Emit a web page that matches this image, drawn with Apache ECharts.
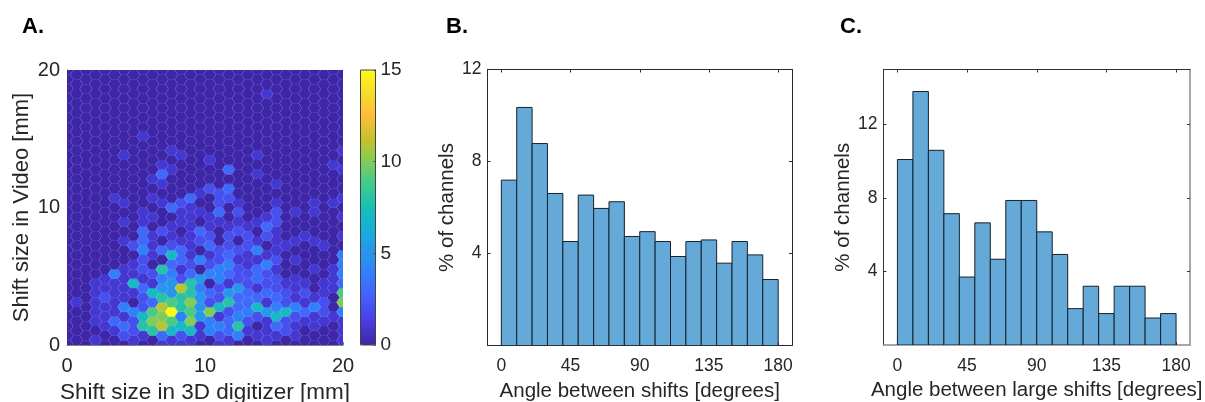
<!DOCTYPE html>
<html><head><meta charset="utf-8">
<style>html,body{margin:0;padding:0;background:#fff}#c{width:1205px;height:402px}</style>
<script src="https://cdn.jsdelivr.net/npm/echarts@6/dist/echarts.min.js"></script>
</head><body><div id="c"></div>
<script>
// Panel A: hexagonal bin counts, one list per bin column, from the bottom bin upward
const hexColumns = [
 [],
 [0,0,0,0,1],
 [],
 [1,0,1,1,1,1,1],
 [0,0,1,1,1,2,1,1],
 [0,1,3,1,1,1,1,4,0,0,0,0,0,0,0,1],
 [0,2,3,1,4,1,1,1,1,0,0,1,0,1,0,1,0,0,0,0,1],
 [1,2,2,4,0,1,7,1,1,0,2],
 [0,1,8,7,2,2,3,1,2,2,4,3,3,1,1,0,0,0,0,0,0,0,1],
 [0,8,10,9,3,7,1,2,0,1,1,1,0,1,0,1,0,1],
 [1,3,11,10,11,8,5,4,8,0,3,0,2,0,0,1,0,1,3,1],
 [1,7,9,15,9,5,5,4,3,7,2,1,1,0,3,0,0,0,1,0,1],
 [1,2,7,4,8,8,11,2,1,3,3,1,0,1,1,2,0,0,0,0,1],
 [1,7,10,9,10,8,8,3,2,1,1,1,1,1,1,3],
 [0,1,1,5,5,5,4,5,0,4,0,2,3,0,1,0,1],
 [0,4,4,10,2,3,0,4,2,1,3,2,1,1,0,0,2,0,0,1],
 [1,2,4,1,7,2,2,4,4,2,2,0,0,1,3,2,2],
 [1,3,3,2,8,5,1,3,4,3,2,2,1,0,0,2,3,0,3],
 [0,4,8,4,3,3,5,2,2,1,2,0,2,1,2,1],
 [0,1,2,4,3,3,2,2,1,1,2,2,1],
 [0,1,0,2,7,3,1,3,3,1,4,1,0,1,0,0,0,0,1,0,1],
 [1,1,1,5,1,3,2,2,4,1,0,2,3,1,0,0,0,0,0,0,0,0,0,0,0,0,1],
 [0,1,3,7,4,3,2,2,1,2,1,1,1,2,2,1,0,1],
 [0,2,2,7,2,2,1,0,0,0,1],
 [0,1,1,2,4,1,1,1,0,1,0,1,0,0,1],
 [0,0,1,3,1,2,1,0,0,0,0,1],
 [0,0,1,1,4,1,0,0,1,0,0,1,0,0,1,1],
 [0,0,1,2,2,1,1,0,0,0,1],
 [0,0,0,1,0,0,1,1,1,0,0,0,0,0,0,1,0,0,0,1],
 [1,1,1,4,10,9,3,4,4,4,0,1,0,1,0,1,0,0,1,0,1]
];
const hexXMax = 20, hexYMax = 20, hexBinsAcross = 29, hexRows = 30;
const parula = ['#3e26a8','#463cde','#465dfb','#327cfc','#2796eb','#18addb','#18bfb6','#3fca8e','#80cc59','#c5c22a','#febd3c','#f7dc2a','#f9fb14'];

// Panels B and C: histogram percentages in 10-degree bins
const binWidth = 10;
const shiftAngles = [7.19,10.35,8.78,6.61,4.52,6.54,5.96,6.25,4.74,4.95,4.52,3.87,4.52,4.59,3.58,4.52,3.94,2.87];
const largeShiftAngles = [10.1,13.8,10.6,7.15,3.7,6.65,4.67,7.87,7.87,6.16,4.93,1.98,3.2,1.71,3.2,3.2,1.47,1.71];
const angleTicks = [0, 45, 90, 135, 180];
const shiftPctTicks = [4, 8, 12];
const largePctTicks = [4, 8, 12];

const FONT = '"Liberation Sans", Arial, Helvetica, sans-serif';
const TXT = '#262626';

const step = hexXMax / hexBinsAcross;
const hexData = [];
hexColumns.forEach((col, k) => {
  for (let n = 0; n < hexRows; n++) {
    hexData.push([k * step, (n + (k % 2) * 0.5) * step, col[n] || 0]);
  }
});

function renderHex(params, api) {
  const x = api.value(0), y = api.value(1);
  const R = step / 1.5, h = step / 2;
  const c = p => api.coord(p);
  const L = c([x - R, y]), TL = c([x - R / 2, y + h]), TR = c([x + R / 2, y + h]);
  const Rt = c([x + R, y]), BR = c([x + R / 2, y - h]), BL = c([x - R / 2, y - h]);
  const color = api.visual('color');
  const edge = {stroke: 'rgba(255,255,255,0.17)', lineWidth: 0.6, fill: null};
  return {type: 'group', children: [
    {type: 'polygon', shape: {points: [L, TL, TR, Rt, BR, BL]}, style: {fill: color, stroke: color, lineWidth: 0.4}},
    {type: 'polyline', shape: {points: [TL, L, BL]}, style: edge},
    {type: 'polyline', shape: {points: [TR, Rt, BR]}, style: edge}
  ]};
}
function renderBar(params, api) {
  const a = api.coord([api.value(0), 0]), b = api.coord([api.value(1), api.value(2)]);
  return {type: 'rect', shape: {x: a[0], y: b[1], width: b[0] - a[0], height: a[1] - b[1]},
    style: {fill: '#65a9d8', stroke: '#15212b', lineWidth: 1}};
}
const histData = vals => vals.map((v, i) => [i * binWidth, (i + 1) * binWidth, v]);

const grids = [
  {left: 67, top: 70, width: 276, height: 275, outerBoundsMode: 'none'},
  {left: 360.5, top: 70, width: 15, height: 275, outerBoundsMode: 'none', show: true, borderColor: '#444', borderWidth: 1},
  {left: 487.5, top: 69.5, width: 304.5, height: 276, outerBoundsMode: 'none'},
  {left: 883.5, top: 69.5, width: 306.5, height: 275.5, outerBoundsMode: 'none'}
];
const label = (size) => ({color: TXT, fontFamily: FONT, fontSize: size});
const line = (c, w) => ({show: true, onZero: false, lineStyle: {color: c, width: w || 1}});
const tick = (c, len) => ({show: true, inside: true, length: len || 3, lineStyle: {color: c, width: 1}});
const nameStyle = (size) => ({color: TXT, fontFamily: FONT, fontSize: size});

function histAxes(g, yMax, yTicks, xName, xGap, yGap, dark, edge, edgeW) {
  const x = [
    {type: 'value', gridIndex: g, position: 'bottom', min: -9, max: 189,
     axisLine: line(edge, edgeW), axisTick: Object.assign(tick(dark), {customValues: angleTicks}),
     axisLabel: Object.assign(label(17.5), {customValues: angleTicks, margin: 12}), splitLine: {show: false},
     name: xName, nameLocation: 'middle', nameGap: xGap, nameTextStyle: nameStyle(20.5)},
    {type: 'value', gridIndex: g, position: 'top', min: -9, max: 189,
     axisLine: line(dark), axisTick: Object.assign(tick(dark), {customValues: angleTicks}),
     axisLabel: {show: false}, splitLine: {show: false}}
  ];
  const y = [
    {type: 'value', gridIndex: g, position: 'left', min: 0, max: yMax,
     axisLine: line(dark), axisTick: Object.assign(tick(dark), {customValues: yTicks}),
     axisLabel: Object.assign(label(17.5), {customValues: yTicks, margin: 6}), splitLine: {show: false},
     name: '% of channels', nameLocation: 'middle', nameGap: yGap, nameTextStyle: nameStyle(20.5)},
    {type: 'value', gridIndex: g, position: 'right', min: 0, max: yMax,
     axisLine: line(edge, edgeW), axisTick: Object.assign(tick(dark), {customValues: yTicks}),
     axisLabel: {show: false}, splitLine: {show: false}}
  ];
  return {x, y};
}
const hB = histAxes(2, 12, shiftPctTicks, 'Angle between shifts [degrees]', 33, 30, '#2a2a2a', '#2a2a2a', 1);
const hC = histAxes(3, 15, largePctTicks, 'Angle between large shifts [degrees]', 30, 28, '#333', '#8a8a8a', 1.5);
const panelTitle = (text, left) => ({text, left, top: 11, textStyle: {fontFamily: FONT, fontWeight: 'bold', fontSize: 22, color: '#000'}});

const option = {
  animation: false,
  backgroundColor: '#fff',
  title: [panelTitle('A.', 17), panelTitle('B.', 441), panelTitle('C.', 835)],
  grid: grids,
  xAxis: [
    {type: 'value', gridIndex: 0, min: 0, max: hexXMax, interval: 10,
     axisLine: line('#808080'), axisTick: tick('#808080'), axisLabel: Object.assign(label(20), {margin: 11}),
     splitLine: {show: false}, name: 'Shift size in 3D digitizer [mm]', nameLocation: 'middle', nameGap: 34, nameTextStyle: nameStyle(22.5)},
    {type: 'value', gridIndex: 1, min: 0, max: 1, show: false},
    hB.x[0], hB.x[1], hC.x[0], hC.x[1]
  ],
  yAxis: [
    {type: 'value', gridIndex: 0, min: 0, max: hexYMax, interval: 10,
     axisLine: line('#808080'), axisTick: tick('#808080'), axisLabel: Object.assign(label(20), {margin: 7}),
     splitLine: {show: false}, name: 'Shift size in Video [mm]', nameLocation: 'middle', nameGap: 34, nameTextStyle: nameStyle(22)},
    {type: 'value', gridIndex: 1, min: 0, max: 15, position: 'right', interval: 5,
     axisLine: line('#444'), axisTick: tick('#444', 2), axisLabel: Object.assign(label(19), {margin: 5}), splitLine: {show: false}},
    hB.y[0], hB.y[1], hC.y[0], hC.y[1]
  ],
  visualMap: {
    type: 'continuous', seriesIndex: 0, dimension: 2, min: 0, max: 15,
    inRange: {color: parula}, calculable: false, realtime: false, z: -1,
    left: 360.5, top: 70, itemWidth: 15, itemHeight: 275, text: null, borderWidth: 0, padding: 0
  },
  series: [
    {type: 'custom', xAxisIndex: 0, yAxisIndex: 0, clip: true, data: hexData, renderItem: renderHex, encode: {x: 0, y: 1}, silent: true},
    {type: 'custom', xAxisIndex: 2, yAxisIndex: 2, clip: true, data: histData(shiftAngles), renderItem: renderBar, encode: {x: [0, 1], y: 2}, silent: true},
    {type: 'custom', xAxisIndex: 4, yAxisIndex: 4, clip: true, data: histData(largeShiftAngles), renderItem: renderBar, encode: {x: [0, 1], y: 2}, silent: true}
  ]
};
echarts.init(document.getElementById('c'), null, {renderer: 'canvas'}).setOption(option);
</script></body></html>
